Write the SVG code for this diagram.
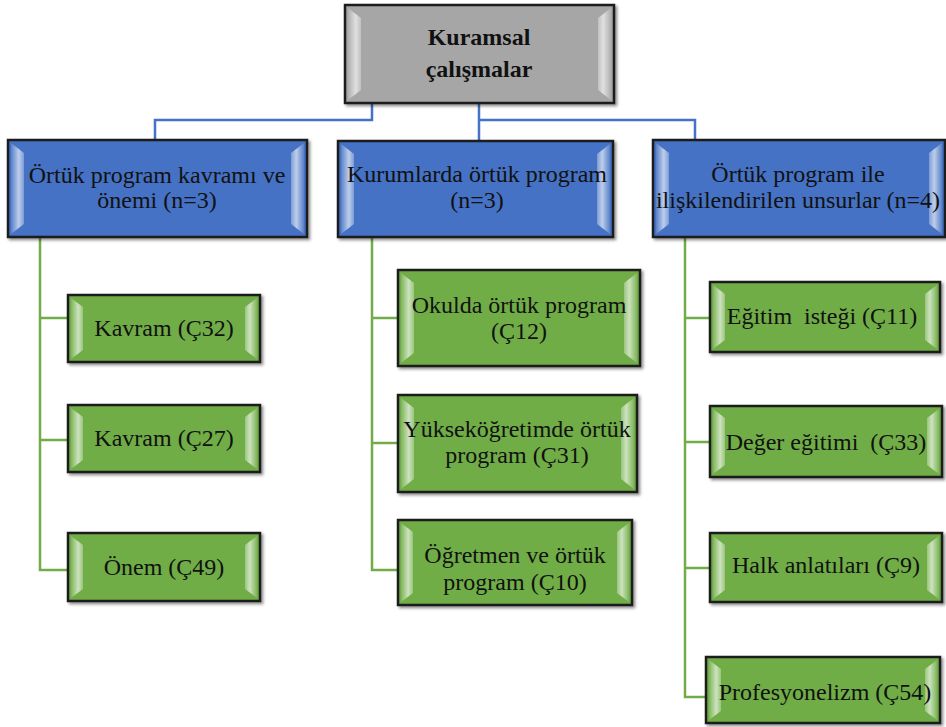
<svg xmlns="http://www.w3.org/2000/svg" width="946" height="727" viewBox="0 0 946 727" font-family="'Liberation Serif', 'Times New Roman', serif">
<defs>
<linearGradient id="bevL" x1="0" y1="0" x2="1" y2="0"><stop offset="0" stop-color="#fff" stop-opacity="0.1"/><stop offset="0.6" stop-color="#fff" stop-opacity="0.65"/><stop offset="1" stop-color="#fff" stop-opacity="0.3"/></linearGradient>
<linearGradient id="bevR" x1="1" y1="0" x2="0" y2="0"><stop offset="0" stop-color="#fff" stop-opacity="0.1"/><stop offset="0.6" stop-color="#fff" stop-opacity="0.65"/><stop offset="1" stop-color="#fff" stop-opacity="0.3"/></linearGradient>
<filter id="sh" x="-5%" y="-5%" width="115%" height="120%"><feDropShadow dx="2" dy="2" stdDeviation="1.5" flood-color="#000" flood-opacity="0.45"/></filter>
</defs>
<style>
.box{stroke:#1a1a1a;stroke-width:2.5;filter:url(#sh)}
.gray{fill:#a6a6a6}
.blue{fill:#4472c4}
.green{fill:#70ad47}
.bl{fill:url(#bevL)}
.br{fill:url(#bevR)}
text{font-size:24px;fill:#111;text-anchor:middle}
.b{font-weight:bold}
.cb{stroke:#4472c4;stroke-width:2.5;fill:none}
.cg{stroke:#70ad47;stroke-width:2.5;fill:none}
</style>
<g id="connectors">
<polyline class="cb" points="372,103 372,120 155,120 155,140"/>
<polyline class="cb" points="479,103 479,141"/>
<polyline class="cb" points="479,120 695,120 695,140"/>
<polyline class="cg" points="40,237 40,570 68,570"/>
<line class="cg" x1="40" y1="318" x2="68" y2="318"/>
<line class="cg" x1="40" y1="440" x2="68" y2="440"/>
<polyline class="cg" points="372,237 372,570 398,570"/>
<line class="cg" x1="372" y1="318" x2="398" y2="318"/>
<line class="cg" x1="372" y1="443" x2="398" y2="443"/>
<polyline class="cg" points="685,237 685,697 706,697"/>
<line class="cg" x1="685" y1="318" x2="710" y2="318"/>
<line class="cg" x1="685" y1="442" x2="710" y2="442"/>
<line class="cg" x1="685" y1="568" x2="710" y2="568"/>
</g>
<g id="root">
<rect class="box gray" x="345" y="5" width="269" height="98"/>
<polygon class="bl" points="348,8 361,18 361,90 348,100"/>
<polygon class="br" points="611,8 598,18 598,90 611,100"/>
<text class="b" x="479" y="45">Kuramsal</text>
<text class="b" x="479" y="77">çalışmalar</text>
</g>
<g id="n1">
<rect class="box blue" x="8" y="140" width="299" height="97"/>
<polygon class="bl" points="11,143 24,153 24,224 11,234"/>
<polygon class="br" points="304,143 291,153 291,224 304,234"/>
<text x="157" y="183">Örtük program kavramı ve</text>
<text x="157" y="208">önemi (n=3)</text>
</g>
<g id="n2">
<rect class="box blue" x="338" y="141" width="275" height="96"/>
<polygon class="bl" points="341,144 354,154 354,224 341,234"/>
<polygon class="br" points="610,144 597,154 597,224 610,234"/>
<text x="477" y="182">Kurumlarda örtük program</text>
<text x="477" y="208">(n=3)</text>
</g>
<g id="n3">
<rect class="box blue" x="653" y="140" width="292" height="97"/>
<polygon class="bl" points="656,143 669,153 669,224 656,234"/>
<polygon class="br" points="942,143 929,153 929,224 942,234"/>
<text x="798" y="182">Örtük program ile</text>
<text x="798" y="208">ilişkilendirilen unsurlar (n=4)</text>
</g>
<g id="c1">
<rect class="box green" x="68" y="295" width="192" height="67"/>
<polygon class="bl" points="71,298 83,307 83,350 71,359"/>
<polygon class="br" points="257,298 245,307 245,350 257,359"/>
<text x="164" y="336">Kavram (Ç32)</text>
</g>
<g id="c2">
<rect class="box green" x="68" y="405" width="192" height="67"/>
<polygon class="bl" points="71,408 83,417 83,460 71,469"/>
<polygon class="br" points="257,408 245,417 245,460 257,469"/>
<text x="164" y="446">Kavram (Ç27)</text>
</g>
<g id="c3">
<rect class="box green" x="68" y="533" width="192" height="68"/>
<polygon class="bl" points="71,536 83,545 83,589 71,598"/>
<polygon class="br" points="257,536 245,545 245,589 257,598"/>
<text x="164" y="575">Önem (Ç49)</text>
</g>
<g id="c4">
<rect class="box green" x="398" y="270" width="242" height="96"/>
<polygon class="bl" points="401,273 414,283 414,353 401,363"/>
<polygon class="br" points="637,273 624,283 624,353 637,363"/>
<text x="519" y="313">Okulda örtük program</text>
<text x="519" y="339">(Ç12)</text>
</g>
<g id="c5">
<rect class="box green" x="398" y="395" width="239" height="97"/>
<polygon class="bl" points="401,398 414,408 414,479 401,489"/>
<polygon class="br" points="634,398 621,408 621,479 634,489"/>
<text x="517" y="437">Yükseköğretimde örtük</text>
<text x="517" y="463">program (Ç31)</text>
</g>
<g id="c6">
<rect class="box green" x="398" y="520" width="234" height="85"/>
<polygon class="bl" points="401,523 413,532 413,593 401,602"/>
<polygon class="br" points="629,523 617,532 617,593 629,602"/>
<text x="515" y="563">Öğretmen ve örtük</text>
<text x="515" y="590">program (Ç10)</text>
</g>
<g id="c7">
<rect class="box green" x="710" y="282" width="230" height="70"/>
<polygon class="bl" points="713,285 725,294 725,340 713,349"/>
<polygon class="br" points="937,285 925,294 925,340 937,349"/>
<text x="822" y="324" xml:space="preserve">Eğitim  isteği (Ç11)</text>
</g>
<g id="c8">
<rect class="box green" x="710" y="406" width="232" height="71"/>
<polygon class="bl" points="713,409 725,418 725,465 713,474"/>
<polygon class="br" points="939,409 927,418 927,465 939,474"/>
<text x="826" y="450" xml:space="preserve">Değer eğitimi  (Ç33)</text>
</g>
<g id="c9">
<rect class="box green" x="710" y="533" width="232" height="69"/>
<polygon class="bl" points="713,536 725,545 725,590 713,599"/>
<polygon class="br" points="939,536 927,545 927,590 939,599"/>
<text x="826" y="573">Halk anlatıları (Ç9)</text>
</g>
<g id="c10">
<rect class="box green" x="706" y="657" width="234" height="66"/>
<polygon class="bl" points="709,660 721,669 721,711 709,720"/>
<polygon class="br" points="937,660 925,669 925,711 937,720"/>
<text x="825" y="700">Profesyonelizm (Ç54)</text>
</g>
</svg>
